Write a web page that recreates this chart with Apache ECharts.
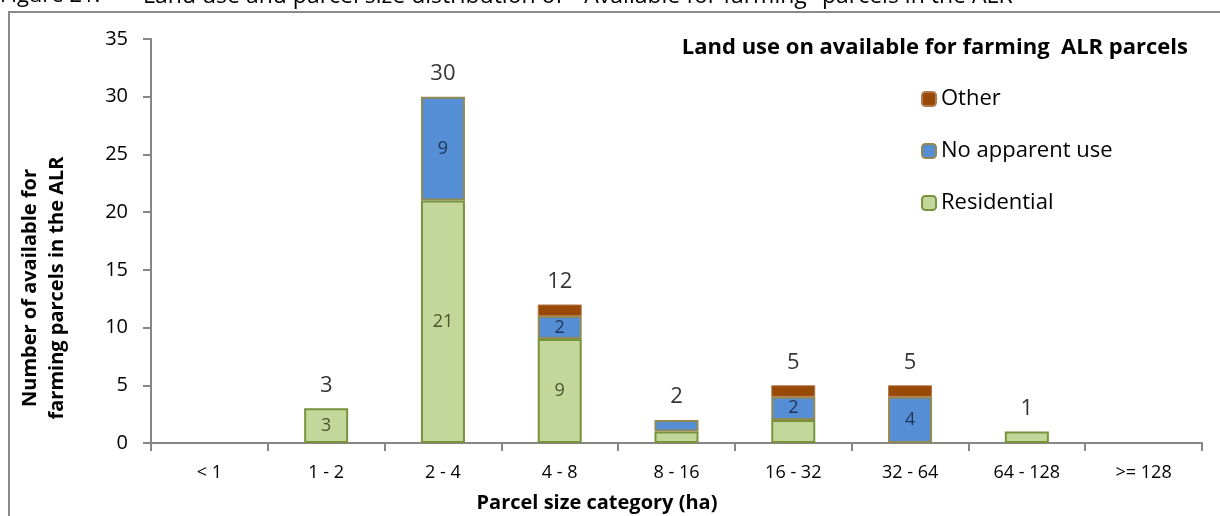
<!DOCTYPE html>
<html>
	<head>
		<meta charset="utf-8">
		<title></title>
		<style>
		html, body { margin: 0; padding: 0; background: #fff; }
		#main { width: 1220px; height: 516px; }
		</style>
	</head>
	<body>
		<div id="main"></div>
		<script src="https://cdn.jsdelivr.net/npm/echarts@6/dist/echarts.min.js"></script>
		<script type="text/javascript">
			var categories = ['< 1', '1 - 2', '2 - 4', '4 - 8', '8 - 16', '16 - 32', '32 - 64', '64 - 128', '>= 128'];
			var residential = [0, 3, 21, 9, 1, 2, 0, 1, 0];
			var noApparentUse = [0, 0, 9, 2, 1, 2, 4, 0, 0];
			var other = [0, 0, 0, 1, 0, 1, 1, 0, 0];
			var totals = [null, 3, 30, 12, 2, 5, 5, 1, null];
			// labels shown inside the bars (Excel only labelled some of them)
			var residentialLabels = ['', '3', '21', '9', '', '', '', '', ''];
			var noUseLabels = ['', '', '9', '2', '', '2', '4', '', ''];
			var yTicks = [0, 5, 10, 15, 20, 25, 30, 35];

			var font = '"Open Sans", "Noto Sans", sans-serif';
			var myChart = echarts.init(document.getElementById('main'));

			// zero segments are not drawn at all (otherwise the border shows as a line)
			function noZero(arr) {
				return arr.map(function (v) { return v === 0 ? '-' : v; });
			}

			var option = {
				animation: false,
				textStyle: { fontFamily: font },
				grid: { left: 151, right: 18, top: 39, bottom: 73 },
				graphic: [
					// outer frame
					{ type: 'rect', shape: { x: 9, y: 12, width: 1230, height: 520 },
					  style: { fill: 'none', stroke: '#8a8a8a', lineWidth: 2 } },
					// figure caption, cut at the top of the picture
					{ type: 'text', x: 0, y: -15, style: { text: 'Figure 21.', font: '22px ' + font, fill: '#000' } },
					{ type: 'text', x: 143, y: -15, style: { text: 'Land use and parcel size distribution of  "Available for farming" parcels in the ALR', font: '23px ' + font, fill: '#000' } },
					// y axis name
					{ type: 'text', x: 44, y: 288, rotation: Math.PI / 2,
					  style: { text: 'Number of available for\nfarming parcels in the ALR', font: 'bold 20px ' + font,
					  fill: '#000', align: 'center', verticalAlign: 'middle', lineHeight: 27 } },
					// x axis name
					{ type: 'text', x: 597, y: 503,
					  style: { text: 'Parcel size category (ha)', font: 'bold 20px ' + font, fill: '#000', align: 'center', verticalAlign: 'middle' } },
					// legend title
					{ type: 'text', x: 1188, y: 48,
					  style: { text: 'Land use on available for farming  ALR parcels', font: 'bold 22px ' + font, fill: '#000', align: 'right', verticalAlign: 'middle' } }
				],
				legend: {
					data: ['Other', 'No apparent use', 'Residential'],
					orient: 'vertical',
					left: 916,
					top: 83,
					itemWidth: 14,
					itemHeight: 14,
					itemGap: 30,
					textStyle: { fontSize: 22, color: '#000', lineHeight: 22, fontFamily: font }
				},
				xAxis: {
					type: 'category',
					data: categories,
					axisLine: { lineStyle: { color: '#868686', width: 2 } },
					axisTick: { show: true, length: 8, lineStyle: { color: '#868686', width: 2 } },
					axisLabel: { fontSize: 18, color: '#000', margin: 21, interval: 0 }
				},
				yAxis: {
					type: 'value',
					min: 0,
					max: 35,
					interval: 5,
					splitLine: { show: false },
					axisLine: { show: true, lineStyle: { color: '#868686', width: 2 } },
					axisTick: { show: true, length: 8, lineStyle: { color: '#868686', width: 2 } },
					axisLabel: { fontSize: 20, color: '#000', margin: 23,
						formatter: function (v) { return yTicks.indexOf(v) >= 0 ? String(v) : ''; } }
				},
				series: [
					{
						name: 'Residential',
						type: 'bar',
						stack: 'use',
						barWidth: 44,
						data: noZero(residential),
						itemStyle: { color: '#C4D79B', borderColor: '#77933C', borderWidth: 2 },
						label: { show: true, position: 'inside', fontSize: 18, color: '#4a5530',
							formatter: function (p) { return residentialLabels[p.dataIndex]; } }
					},
					{
						name: 'No apparent use',
						type: 'bar',
						stack: 'use',
						barWidth: 44,
						data: noZero(noApparentUse),
						itemStyle: { color: '#558ED5', borderColor: '#938953', borderWidth: 2 },
						label: { show: true, position: 'inside', fontSize: 18, color: '#1c3557',
							formatter: function (p) { return noUseLabels[p.dataIndex]; } }
					},
					{
						name: 'Other',
						type: 'bar',
						stack: 'use',
						barWidth: 44,
						data: noZero(other),
						itemStyle: { color: '#984807', borderColor: '#b4784a', borderWidth: 1 }
					},
					{
						name: 'Total',
						type: 'scatter',
						data: totals,
						symbolSize: 0,
						silent: true,
						label: { show: true, position: 'top', distance: 12, fontSize: 22, color: '#000',
							formatter: function (p) { return p.value == null ? '' : String(p.value); } }
					}
				]
			};
			myChart.setOption(option);
		</script>
	</body>
</html>
